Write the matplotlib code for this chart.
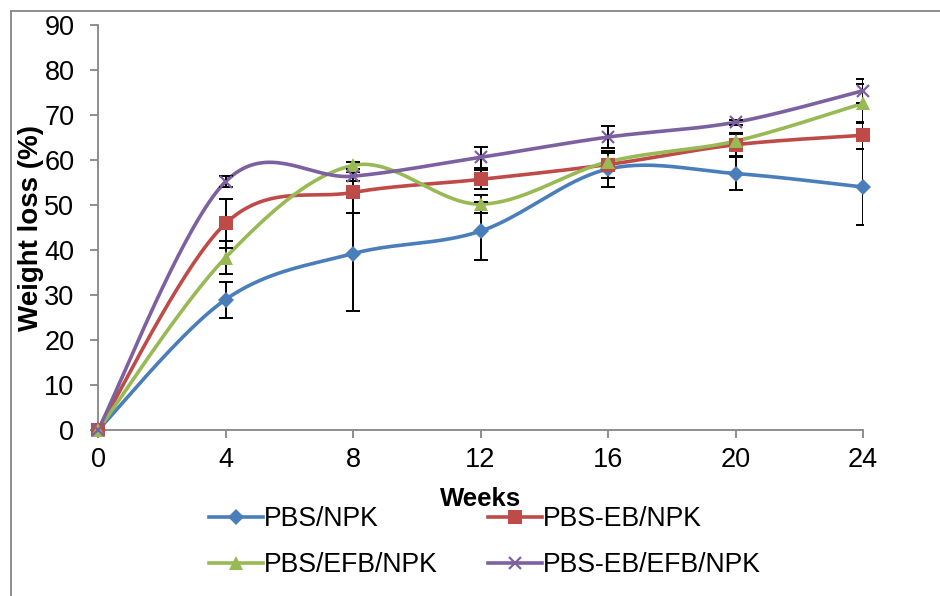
import matplotlib
matplotlib.use('Agg')
import matplotlib.pyplot as plt
import numpy as np
from matplotlib.lines import Line2D

plt.rcParams['font.family'] = ['Liberation Sans', 'DejaVu Sans']

# data
weeks = [0, 4, 8, 12, 16, 20, 24]
series_names = ['PBS/NPK', 'PBS-EB/NPK', 'PBS/EFB/NPK', 'PBS-EB/EFB/NPK']
pbs_npk = [0, 29.0, 39.2, 44.2, 58.0, 57.0, 54.0]
pbs_eb_npk = [0, 45.9, 52.8, 55.7, 59.0, 63.4, 65.5]
pbs_efb_npk = [0, 38.3, 58.8, 50.2, 59.6, 64.2, 72.6]
pbs_eb_efb_npk = [0, 55.2, 56.4, 60.6, 65.1, 68.4, 75.4]
err_pbs_npk = [0, 4.0, 12.8, 6.4, 4.0, 3.6, 8.4]
err_pbs_eb_npk = [0, 5.5, 4.5, 2.1, 3.0, 2.4, 3.0]
err_pbs_efb_npk = [0, 3.6, 0.8, 2.0, 2.0, 1.8, 4.3]
err_pbs_eb_efb_npk = [0, 1.2, 1.0, 2.4, 2.5, 0.6, 2.7]

colors = ['#4A7EBB', '#BE4B48', '#98B954', '#7D60A0']
markers = ['D', 's', '^', 'x']
msizes = [8, 10, 10, 9]


def smooth(x, y, n=40):
    # Excel-style smoothed line: cubic Bezier with 1/6 tangent control points
    x = np.asarray(x, float)
    y = np.asarray(y, float)
    pts = np.column_stack([x, y])
    out = []
    m = len(pts)
    for i in range(m - 1):
        p0 = pts[i]
        p3 = pts[i + 1]
        prev = pts[i - 1] if i > 0 else pts[i]
        nxt = pts[i + 2] if i + 2 < m else pts[i + 1]
        p1 = p0 + (p3 - prev) / 6.0
        p2 = p3 - (nxt - p0) / 6.0
        t = np.linspace(0, 1, n)[:, None]
        seg = ((1 - t) ** 3) * p0 + 3 * ((1 - t) ** 2) * t * p1 \
            + 3 * (1 - t) * t ** 2 * p2 + t ** 3 * p3
        out.append(seg if i == 0 else seg[1:])
    out = np.vstack(out)
    return out[:, 0], out[:, 1]


fig = plt.figure(figsize=(9.4, 5.96), dpi=100)
ax = fig.add_axes([0.1043, 0.2785, 0.8138, 0.6795])

values = [pbs_npk, pbs_eb_npk, pbs_efb_npk, pbs_eb_efb_npk]
errors = [err_pbs_npk, err_pbs_eb_npk, err_pbs_efb_npk, err_pbs_eb_efb_npk]

for vals, errs, c in zip(values, errors, colors):
    sx, sy = smooth(weeks, vals)
    ax.plot(sx, sy, color=c, lw=2.6, zorder=2, solid_capstyle='round')
    ax.errorbar(weeks, vals, yerr=errs, fmt='none', ecolor='black',
                elinewidth=1.4, capsize=5, capthick=1.4, zorder=3)

for vals, c, mk, ms in zip(values, colors, markers, msizes):
    mew = 1.6 if mk == 'x' else 0
    ax.plot(weeks, vals, ls='none', marker=mk, ms=ms, color=c,
            mec=c, mew=mew, zorder=4, clip_on=False)

ax.set_xlim(0, 24)
ax.set_ylim(0, 90)
ax.set_xticks(weeks)
ax.set_yticks(range(0, 91, 10))
for s in ['top', 'right']:
    ax.spines[s].set_visible(False)
for s in ['left', 'bottom']:
    ax.spines[s].set_color('#868686')
    ax.spines[s].set_linewidth(1.3)
ax.tick_params(direction='out', length=6, width=1.3, color='#868686',
               labelsize=19.5, pad=6)
ax.tick_params(axis='y', pad=11)

ax.set_xlabel('Weeks', fontsize=18.5, fontweight='bold', labelpad=10)
ax.set_ylabel('Weight loss (%)', fontsize=20, fontweight='bold', labelpad=0)

# legend filled row by row like the reference
order = [0, 2, 1, 3]
handles = [Line2D([0], [0], color=colors[i], lw=2.6, marker=markers[i],
                  ms=(msizes[i] if markers[i] != 'x' else 8),
                  mew=(1.6 if markers[i] == 'x' else 0), mec=colors[i])
           for i in order]
fig.legend(handles, [series_names[i] for i in order], loc='center', ncol=2,
           bbox_to_anchor=(0.516, 0.09), frameon=False, fontsize=19.2,
           handlelength=2.0, handletextpad=0.05, columnspacing=1.9,
           labelspacing=0.75, numpoints=1)

# chart area border
fig.add_artist(Line2D([11 / 940, 11 / 940], [0, 1 - 11 / 596],
                      transform=fig.transFigure, color='#868686', lw=1.3))
fig.add_artist(Line2D([11 / 940, 1], [1 - 11 / 596, 1 - 11 / 596],
                      transform=fig.transFigure, color='#868686', lw=1.3))

fig.savefig('out.png', dpi=100)
